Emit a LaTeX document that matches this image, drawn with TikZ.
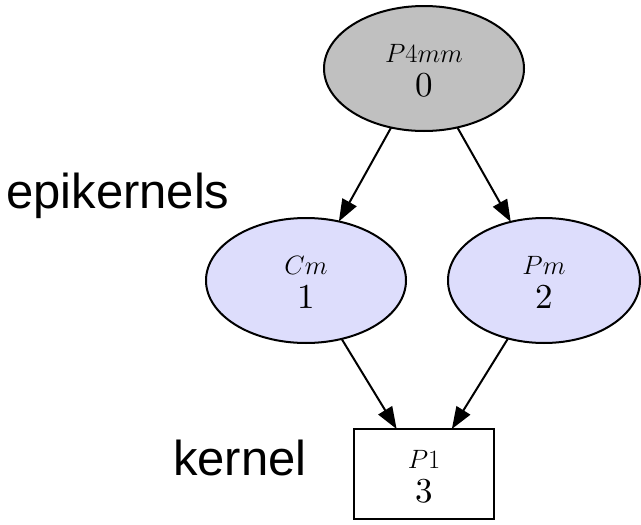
\RequirePackage{fix-cm}
\documentclass[tikz,border=0pt]{standalone}
\usepackage{fontspec}
\usetikzlibrary{arrows.meta,shapes.geometric}
\newfontfamily\labelsans{Liberation Sans}
\newfontfamily\idxfont{lmroman10-regular}[Extension=.otf]
\definecolor{rootgray}{RGB}{192,192,192}
\definecolor{epiblue}{RGB}{221,221,252}
% two-line group label: space group symbol above, index below
\newcommand\grouplabel[2]{%
  \makebox[0pt][c]{\raisebox{6pt}[0pt][0pt]{\makebox[0pt][c]{\fontsize{26.5}{30}\selectfont$#1$}}}%
  \makebox[0pt][c]{\raisebox{-28pt}[0pt][0pt]{\makebox[0pt][c]{\idxfont\fontsize{35}{40}\selectfont #2}}}}
\tikzset{
  grp/.style={ellipse, draw=black, line width=2pt, inner sep=0pt, outer sep=0pt},
  rootgrp/.style={grp, fill=rootgray, minimum width=200pt, minimum height=125pt},
  epigrp/.style={grp, fill=epiblue, minimum height=125pt},
  kergrp/.style={rectangle, draw=black, line width=2pt, fill=white, inner sep=0pt, outer sep=0pt,
                 minimum width=140pt, minimum height=90pt},
  sub/.style={line width=2pt, -{Triangle[length=22pt,width=16pt]}},
  tag/.style={anchor=base west, inner sep=0pt, font=\labelsans\fontsize{49}{55}\selectfont}
}
\begin{document}
\begin{tikzpicture}[x=1pt,y=-1pt]
  \useasboundingbox (0,0) rectangle (641,525);
  \fill[white] (0,0) rectangle (641,525);

  \node[rootgrp] (p4mm) at (424,68.5) {\grouplabel{P4mm}{0}};
  \node[epigrp, minimum width=200pt] (cm) at (306,280.5) {\grouplabel{Cm}{1}};
  \node[epigrp, minimum width=192pt] (pm) at (544,280.5) {\grouplabel{Pm}{2}};
  \node[kergrp] (p1) at (424,474) {\grouplabel{P1}{3}};

  \draw[sub] (p4mm) -- (cm);
  \draw[sub] (p4mm) -- (pm);
  \draw[sub] (cm) -- (p1);
  \draw[sub] (pm) -- (p1);

  \node[tag] (epi) at (6,208) {epikernels};
  \node[tag] (ker) at (173,475) {kernel};
\end{tikzpicture}
\end{document}
